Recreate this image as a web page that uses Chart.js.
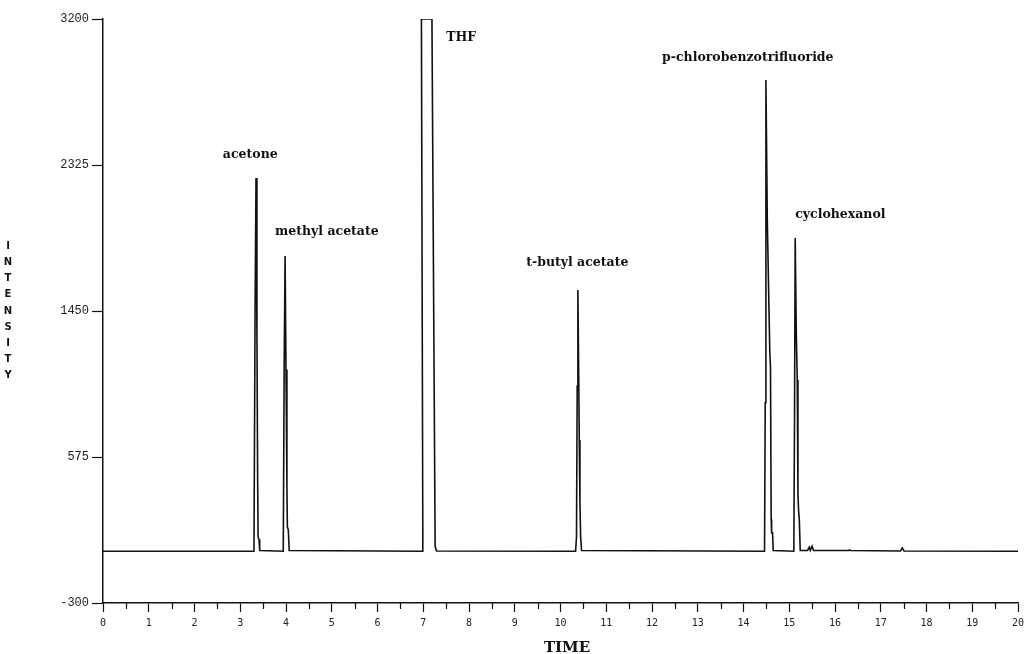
<!DOCTYPE html>
<html>
<head>
<meta charset="utf-8">
<script src="https://cdn.jsdelivr.net/npm/chart.js@4/dist/chart.umd.min.js"></script>
<style>
  html, body { margin: 0; padding: 0; background: #fff; }
  #wrap { width: 1024px; height: 654px; }
</style>
</head>
<body>
<div id="wrap"><canvas id="c" width="1024" height="654"></canvas></div>
<script>
// ---- data ----
const time = [
  0.00, 3.30, 3.325, 3.345, 3.365, 3.38, 3.39, 3.41, 3.425,
  3.94, 3.96, 3.98, 4.00, 4.02, 4.03, 4.05, 4.07,
  6.98, 6.99, 6.96, 7.19, 7.26, 7.29,
  10.33, 10.35, 10.365, 10.38, 10.40, 10.41, 10.425, 10.44, 10.46,
  14.46, 14.475, 14.49, 14.52, 14.575, 14.59, 14.605, 14.615, 14.635, 14.65,
  15.10, 15.115, 15.13, 15.155, 15.175, 15.19, 15.205, 15.22, 15.24,
  15.40, 15.44, 15.46, 15.50, 15.53, 16.30, 16.32, 16.34, 17.43, 17.47, 17.51, 20.00
];
const intensity = [
  10, 10, 1500, 2247, 1300, 450, 95, 80, 15,
  10, 1100, 1780, 1100, 400, 155, 140, 15,
  10, 150, 3200, 3200, 40, 12,
  10, 95, 1000, 1576, 1000, 677, 300, 95, 15,
  10, 900, 2834, 2000, 1200, 1115, 200, 120, 120, 15,
  10, 800, 1888, 1300, 1036, 350, 250, 200, 15,
  15, 35, 15, 40, 15, 15, 18, 15, 12, 30, 12, 10
];
const yTicks = [-300, 575, 1450, 2325, 3200];
const xTickLabels = [0,1,2,3,4,5,6,7,8,9,10,11,12,13,14,15,16,17,18,19,20];
const xMinorTicks = [0.5,1.5,2.5,3.5,4.5,5.5,6.5,7.5,8.5,9.5,10.5,11.5,12.5,13.5,14.5,15.5,16.5,17.5,18.5,19.5];

const peakNames = ['acetone', 'methyl acetate', 'THF', 't-butyl acetate', 'p-chlorobenzotrifluoride', 'cyclohexanol'];
const peakLabelTime = [2.62, 3.76, 7.50, 9.25, 12.22, 15.13];
const peakLabelIntensity = [2385, 1924, 3086, 1738, 2966, 2025];

const xTitle = 'TIME';
const yTitle = 'INTENSITY';

// ---- chart ----
const points = time.map((t, i) => ({ x: t, y: intensity[i] }));

const textPlugin = {
  id: 'texts',
  afterDraw(chart) {
    const ctx = chart.ctx;
    const xs = chart.scales.x, ys = chart.scales.y;
    ctx.save();
    // minor ticks
    ctx.strokeStyle = '#111';
    ctx.lineWidth = 1.2;
    const yb = chart.chartArea.bottom;
    xMinorTicks.forEach(v => {
      const px = Math.round(xs.getPixelForValue(v)) + 0.5;
      ctx.beginPath();
      ctx.moveTo(px, yb);
      ctx.lineTo(px, yb + 6);
      ctx.stroke();
    });
    ctx.fillStyle = '#111';
    ctx.font = 'bold 12.5px "DejaVu Serif"';
    ctx.textAlign = 'left';
    ctx.textBaseline = 'middle';
    peakNames.forEach((n, i) => {
      ctx.fillText(n, xs.getPixelForValue(peakLabelTime[i]), ys.getPixelForValue(peakLabelIntensity[i]));
    });
    ctx.font = 'bold 15px "DejaVu Serif"';
    ctx.textAlign = 'center';
    ctx.fillText(xTitle, 567, 648);
    ctx.font = 'bold 10px "DejaVu Sans"';
    const letters = yTitle.split('');
    const yMid = 311, step = 16.1;
    letters.forEach((ch, i) => {
      ctx.fillText(ch, 8, yMid + (i - (letters.length - 1) / 2) * step);
    });
    ctx.restore();
  }
};

new Chart(document.getElementById('c'), {
  type: 'scatter',
  data: {
    datasets: [{
      data: points,
      showLine: true,
      borderColor: '#111',
      borderWidth: 1.6,
      pointRadius: 0,
      tension: 0,
      fill: false
    }]
  },
  options: {
    responsive: false,
    devicePixelRatio: 1,
    animation: false,
    layout: { padding: { top: 19, right: 6, left: 0, bottom: 0 } },
    plugins: { legend: { display: false }, tooltip: { enabled: false } },
    scales: {
      x: {
        type: 'linear',
        min: 0, max: 20,
        afterFit(s) { s.height = 51; s.paddingLeft = 0; s.paddingRight = 0; },
        afterBuildTicks(s) { s.ticks = xTickLabels.map(v => ({ value: v })); },
        ticks: {
          autoSkip: false,
          maxRotation: 0,
          padding: 5,
          color: '#222',
          font: { family: 'DejaVu Sans Mono', size: 10 },
          callback: v => String(v)
        },
        grid: { drawOnChartArea: false, drawTicks: true, tickLength: 9, tickColor: '#111', tickWidth: 1.2 },
        border: { color: '#111', width: 1.5 }
      },
      y: {
        type: 'linear',
        min: -300, max: 3200,
        afterFit(s) { s.width = 103; s.paddingTop = 0; s.paddingBottom = 0; },
        afterBuildTicks(s) { s.ticks = yTicks.map(v => ({ value: v })); },
        ticks: {
          padding: 3,
          color: '#222',
          font: { family: 'Liberation Mono', size: 12 },
          callback: v => String(v)
        },
        grid: { drawOnChartArea: false, drawTicks: true, tickLength: 11, tickColor: '#111', tickWidth: 1.2 },
        border: { color: '#111', width: 1.5 }
      }
    }
  },
  plugins: [textPlugin]
});
</script>
</body>
</html>
